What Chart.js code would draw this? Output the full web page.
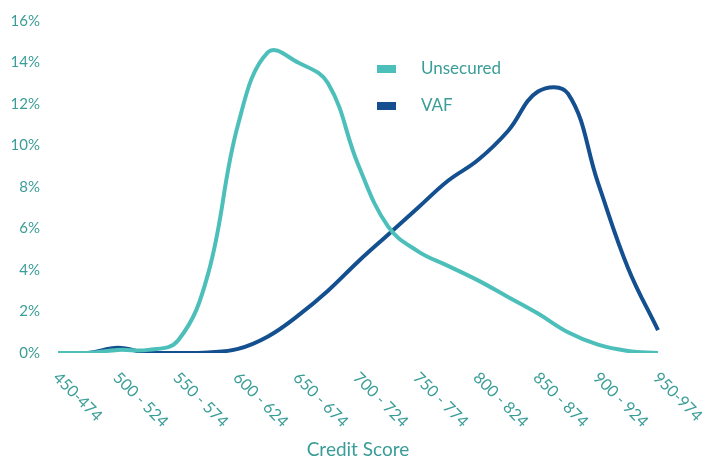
<!DOCTYPE html>
<html lang="en">
<head>
    <meta charset="UTF-8">
    <title>Credit Score</title>
    <script src="https://cdn.jsdelivr.net/npm/chart.js"></script>
    <style>
        html, body { margin: 0; padding: 0; background: #fff; }
        #wrap { width: 710px; height: 461px; }
    </style>
</head>
<body>
    <div id="wrap"><canvas id="chart"></canvas></div>

    <script>
        const categories = ['450-474', '475 - 499', '500 - 524', '525 - 549', '550 - 574', '575 - 599',
            '600 - 624', '625 - 649', '650 - 674', '675 - 699', '700 - 724', '725 - 749',
            '750 - 774', '775 - 799', '800 - 824', '825 - 849', '850 - 874', '875 - 899',
            '900 - 924', '925 - 949', '950-974'];
        const unsecured = [0, 0, 0.15, 0.15, 0.6, 3.8, 11, 14.5, 14.0, 13.0, 9.1, 6.1, 4.9, 4.2, 3.5, 2.7, 1.9, 1.0, 0.4, 0.1, 0];
        const vaf = [0, 0, 0.25, 0, 0, 0.03, 0.2, 0.8, 1.8, 3.0, 4.4, 5.7, 7.0, 8.3, 9.3, 10.7, 12.6, 12.5, 8.2, 4.1, 1.1];
        const yTicks = [0, 2, 4, 6, 8, 10, 12, 14, 16];

        const TEXT = '#3a9d97';
        const FONT = 'Lato, "Open Sans", sans-serif';

        // rotated category labels, legend and axis title
        const decor = {
            id: 'decor',
            afterDraw(chart) {
                const ctx = chart.ctx;
                const x = chart.scales.x;
                const area = chart.chartArea;
                ctx.save();
                ctx.fillStyle = TEXT;
                ctx.font = '16px ' + FONT;
                ctx.textAlign = 'left';
                ctx.textBaseline = 'middle';
                categories.forEach((c, i) => {
                    if (i % 2) return;
                    ctx.save();
                    ctx.translate(x.getPixelForValue(i) - 2, area.bottom + 22);
                    ctx.rotate(Math.PI / 4);
                    ctx.fillText(c, 0, 0);
                    ctx.restore();
                });

                ctx.font = '19px ' + FONT;
                ctx.textAlign = 'center';
                ctx.fillText('Credit Score', (area.left + area.right) / 2, 450);

                ctx.font = '17px ' + FONT;
                ctx.textAlign = 'left';
                chart.data.datasets.forEach((ds, i) => {
                    const ly = 69 + i * 37;
                    ctx.fillStyle = ds.borderColor;
                    ctx.fillRect(377, ly - 4, 19, 8);
                    ctx.fillStyle = TEXT;
                    ctx.fillText(ds.label, 421, ly);
                });
                ctx.restore();
            }
        };

        new Chart(document.getElementById('chart'), {
            type: 'line',
            data: {
                labels: categories,
                datasets: [
                    { label: 'Unsecured', data: unsecured, borderColor: '#4dbfba' },
                    { label: 'VAF', data: vaf, borderColor: '#14508f' }
                ]
            },
            options: {
                responsive: true,
                maintainAspectRatio: false,
                animation: false,
                layout: { padding: { top: 21, right: 52, bottom: 100, left: 0 } },
                elements: {
                    point: { radius: 0 },
                    line: { borderWidth: 4, tension: 0.4, capBezierPoints: true }
                },
                plugins: { legend: { display: false }, tooltip: { enabled: false } },
                scales: {
                    x: {
                        grid: { display: false },
                        border: { display: false },
                        ticks: { display: false }
                    },
                    y: {
                        min: 0,
                        max: 16,
                        afterFit(scale) { scale.width = 58; },
                        afterBuildTicks(scale) { scale.ticks = yTicks.map(v => ({ value: v })); },
                        grid: { display: false },
                        border: { display: false },
                        ticks: {
                            padding: 10,
                            color: TEXT,
                            font: { family: FONT, size: 15 },
                            callback: v => v + '%'
                        }
                    }
                }
            },
            plugins: [decor]
        });
    </script>
</body>
</html>
